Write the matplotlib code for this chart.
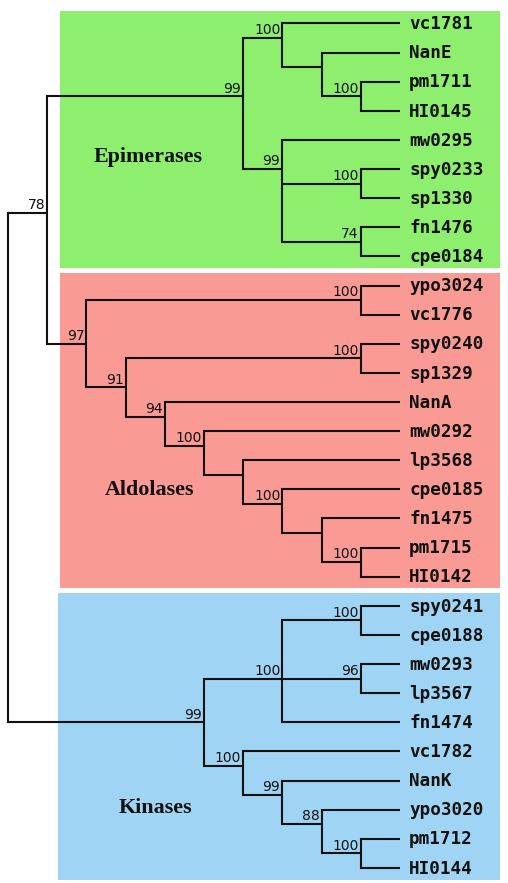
import matplotlib
matplotlib.use("Agg")
from matplotlib import pyplot as plt
from matplotlib.patches import Rectangle

# leaf names, top to bottom
leaves = ["vc1781", "NanE", "pm1711", "HI0145", "mw0295", "spy0233", "sp1330",
          "fn1476", "cpe0184",
          "ypo3024", "vc1776", "spy0240", "sp1329", "NanA", "mw0292", "lp3568",
          "cpe0185", "fn1475", "pm1715", "HI0142",
          "spy0241", "cpe0188", "mw0293", "lp3567", "fn1474", "vc1782", "NanK",
          "ypo3020", "pm1712", "HI0144"]
leaf_level = 10

# internal nodes: id, depth level, row, bootstrap, children
node_ids = ["e_phi", "e_nane", "e_vc", "e_spy", "e_fn", "e_mw", "epi",
            "a_ypo", "a_spy", "a_pm", "a_fn", "a_cpe", "a_lp", "a_mw", "a_nana", "a_91", "aldo", "ea",
            "k_spy", "k_mw", "k_100", "k_pm", "k_88", "k_99", "k_vc", "kin", "root"]
node_levels = [9, 8, 7, 9, 9, 7, 6,
               9, 9, 9, 8, 7, 6, 5, 4, 3, 2, 1,
               9, 9, 7, 9, 8, 7, 6, 5, 0]
node_rows = [2.5, 1.5, 0.5, 5.5, 7.5, 5.0, 2.5,
             9.5, 11.5, 18.5, 17.5, 16.5, 15.5, 14.5, 13.5, 12.5, 11.0, 6.5,
             20.5, 22.5, 22.5, 28.5, 27.5, 26.5, 25.5, 24.0, 15.0]
node_boot = ["100", "", "100", "100", "74", "99", "99",
             "100", "100", "100", "", "100", "", "100", "94", "91", "97", "78",
             "100", "96", "100", "100", "88", "99", "100", "99", ""]
node_children = [["pm1711", "HI0145"], ["NanE", "e_phi"], ["vc1781", "e_nane"],
                 ["spy0233", "sp1330"], ["fn1476", "cpe0184"], ["mw0295", "e_spy", "e_fn"],
                 ["e_vc", "e_mw"],
                 ["ypo3024", "vc1776"], ["spy0240", "sp1329"], ["pm1715", "HI0142"],
                 ["fn1475", "a_pm"], ["cpe0185", "a_fn"], ["lp3568", "a_cpe"],
                 ["mw0292", "a_lp"], ["NanA", "a_mw"], ["a_spy", "a_nana"],
                 ["a_ypo", "a_91"], ["epi", "aldo"],
                 ["spy0241", "cpe0188"], ["mw0293", "lp3567"], ["k_spy", "k_mw", "fn1474"],
                 ["pm1712", "HI0144"], ["ypo3020", "k_pm"], ["NanK", "k_88"],
                 ["vc1782", "k_99"], ["k_100", "k_vc"], ["ea", "kin"]]

# clades: name, first leaf, last leaf, colour
clade_names = ["Epimerases", "Aldolases", "Kinases"]
clade_first = ["vc1781", "ypo3024", "spy0241"]
clade_last = ["cpe0184", "HI0142", "HI0144"]
clade_colors = ["#8eee6e", "#fa9a94", "#a0d4f4"]

pos = {}
for i, name in enumerate(leaves):
    pos[name] = (leaf_level, i)
for nid, lev, row in zip(node_ids, node_levels, node_rows):
    pos[nid] = (lev, row)

fig = plt.figure(figsize=(5.08, 8.83), dpi=100)
ax = fig.add_axes([0, 0, 1, 1])
ax.set_xlim(-0.204, 12.755)
ax.set_ylim(29.52, -0.807)
ax.axis("off")

# 背景色块
box_left = [1.33, 1.33, 1.28]
for name, first, last, color, left in zip(clade_names, clade_first, clade_last, clade_colors, box_left):
    r0 = leaves.index(first) - 0.44
    r1 = leaves.index(last) + 0.4
    ax.add_patch(Rectangle((left, r0), 12.55 - left, r1 - r0, facecolor=color,
                           edgecolor="none", zorder=0))

lw = 1.5
lc = "#111111"
for nid, children, boot in zip(node_ids, node_children, node_boot):
    x, y = pos[nid]
    ys = [pos[c][1] for c in children]
    ax.plot([x, x], [min(ys), max(ys)], color=lc, lw=lw, solid_capstyle="projecting", zorder=2)
    for c in children:
        cx, cy = pos[c]
        ax.plot([x, cx], [cy, cy], color=lc, lw=lw, solid_capstyle="butt", zorder=2)
    if boot:
        ax.annotate(boot, (x, y), xytext=(-1.5, 0.5), textcoords="offset points",
                    ha="right", va="bottom", fontsize=10, family="DejaVu Sans",
                    color="#111111", zorder=3)

# 叶子名称
for i, name in enumerate(leaves):
    ax.annotate(name, (leaf_level, i), xytext=(6.5, -0.5), textcoords="offset points",
                ha="left", va="center", fontsize=12.7, fontweight="bold",
                family="DejaVu Sans Mono", color="#111111", zorder=3)

# 分组名称
label_pos = [(3.57, 4.58), (3.62, 16.02), (3.75, 26.94)]
for name, (lx, ly) in zip(clade_names, label_pos):
    ax.text(lx, ly, name, ha="center", va="center", fontsize=15.8,
            fontweight="bold", family="Liberation Serif", color="#111111", zorder=3)

fig.savefig("out.png", dpi=100)
